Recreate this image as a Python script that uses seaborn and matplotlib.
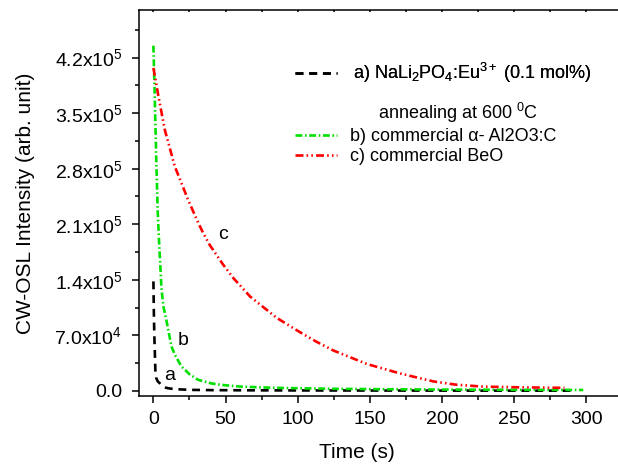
import numpy as np
import pandas as pd
import seaborn as sns
import matplotlib.pyplot as plt
from matplotlib.ticker import FixedLocator, MultipleLocator

# datos
t_a = [0, 0.3, 0.6, 1, 1.4, 2, 3, 4.4, 6, 8, 10, 15, 26, 40, 60, 100, 150, 200, 250, 290]
I_a = [138000, 100000, 72000, 48000, 23000, 16000, 12000, 9700, 6500, 4500, 3400,
       2200, 1300, 1000, 800, 600, 500, 400, 350, 300]

t_b = [0, 1, 2, 3, 3.5, 4, 5, 5.5, 6, 7, 9, 12.5, 15, 19.4, 25, 31, 40, 47, 60, 75,
       90, 120, 160, 200, 250, 298]
I_b = [435000, 365000, 290000, 225000, 205000, 185000, 150000, 131000, 122000, 106000,
       89000, 56000, 45000, 31000, 21000, 14000, 9500, 7600, 5500, 4400, 3700, 2800,
       2100, 1700, 1400, 1200]

t_c = [0, 3.3, 7.9, 14.8, 24, 31, 34.5, 39, 48, 55.5, 67, 85.5, 101.6, 113, 124.7,
       147.9, 171, 194, 210, 228.7, 252, 270, 285]
I_c = [407000, 373000, 329000, 283000, 241000, 212000, 199000, 184000, 160000, 142000,
       119000, 92000, 74000, 62000, 51000, 34000, 22000, 12000, 7800, 5400, 4600,
       4200, 3800]

labels = ["a) NaLi$_2$PO$_4$:Eu$^{3+}$ (0.1 mol%)",
          "b) commercial α- Al2O3:C",
          "c) commercial BeO"]
nota = "annealing at 600 $^0$C"

yticks = [0, 70000, 140000, 210000, 280000, 350000, 420000]
yticklabels = ["0.0", "7.0x10$^4$", "1.4x10$^5$", "2.1x10$^5$", "2.8x10$^5$",
               "3.5x10$^5$", "4.2x10$^5$"]
xticks = [0, 50, 100, 150, 200, 250, 300]

df = pd.concat([
    pd.DataFrame({"t": t_a, "I": I_a, "muestra": "a"}),
    pd.DataFrame({"t": t_b, "I": I_b, "muestra": "b"}),
    pd.DataFrame({"t": t_c, "I": I_c, "muestra": "c"}),
])

sns.set_style("ticks")
plt.rcParams["font.family"] = ["Liberation Sans", "DejaVu Sans"]
plt.rcParams["mathtext.fontset"] = "custom"
plt.rcParams["mathtext.rm"] = "Liberation Sans"
plt.rcParams["mathtext.it"] = "Liberation Sans:italic"
plt.rcParams["mathtext.bf"] = "Liberation Sans:bold"
for k in ["text.color", "axes.labelcolor", "xtick.color", "ytick.color", "axes.edgecolor"]:
    plt.rcParams[k] = "black"

fig = plt.figure(figsize=(6.18, 4.66), dpi=100)
# el eje derecho queda fuera de la imagen, como en el original recortado
ax = fig.add_axes([0.2249, 0.1509, 0.8636, 0.8277])

colores = {"a": "black", "b": "#00e000", "c": "#ff0000"}
estilos = {"a": (3, 2.2), "b": (2.6, 1, 0.6, 1), "c": (3, 1.2, 0.6, 1.2, 0.6, 1.2)}

sns.lineplot(data=df, x="t", y="I", hue="muestra", style="muestra",
             palette=colores, dashes=estilos, linewidth=1.9, legend=False,
             sort=False, ax=ax)

ax.set_xlim(-10, 360)
ax.set_ylim(-6000, 480000)
ax.xaxis.set_major_locator(FixedLocator(xticks))
ax.xaxis.set_minor_locator(FixedLocator([25, 75, 125, 175, 225, 275, 325]))
ax.yaxis.set_major_locator(FixedLocator(yticks))
ax.set_yticklabels(yticklabels)
ax.yaxis.set_minor_locator(MultipleLocator(35000))

ax.spines["right"].set_visible(False)
for s in ax.spines.values():
    s.set_linewidth(1.1)
ax.tick_params(axis="both", which="major", direction="out", length=5, width=1.1,
               labelsize=14)
ax.tick_params(axis="both", which="minor", direction="out", length=3, width=1.1)
ax.tick_params(axis="y", which="both", right=False, pad=7)
ax.tick_params(axis="x", which="both", top=True, pad=6)
for tk in ax.xaxis.get_major_ticks() + ax.xaxis.get_minor_ticks():
    tk.tick2line.set_marker(3)
    tk.tick2line.set_markersize(1.5)
    tk.tick2line.set_color("#999999")

ax.set_xlabel("Time (s)", fontsize=15)
ax.xaxis.set_label_coords(0.4085, -0.122)
ax.set_ylabel("CW-OSL Intensity (arb. unit)", fontsize=15, labelpad=14)

ax.text(11.4, 20000, "a", fontsize=14, ha="center", va="center")
ax.text(20.6, 64000, "b", fontsize=14, ha="center", va="center")
ax.text(48, 197000, "c", fontsize=14, ha="center", va="center")

lineas = ax.get_lines()
leg1 = fig.legend([lineas[0]], [labels[0]], loc="upper left",
                  bbox_to_anchor=(0.478, 0.869), frameon=False, fontsize=13,
                  handlelength=2.3, handletextpad=0.9, borderpad=0, borderaxespad=0)
fig.add_artist(leg1)
fig.legend(lineas[1:], labels[1:], loc="upper left",
           bbox_to_anchor=(0.478, 0.725), frameon=False, fontsize=13,
           handlelength=2.3, handletextpad=0.7, borderpad=0, borderaxespad=0,
           labelspacing=0.18)
fig.text(0.612, 0.757, nota, fontsize=13, va="center")

fig.savefig("out.png", dpi=100)
